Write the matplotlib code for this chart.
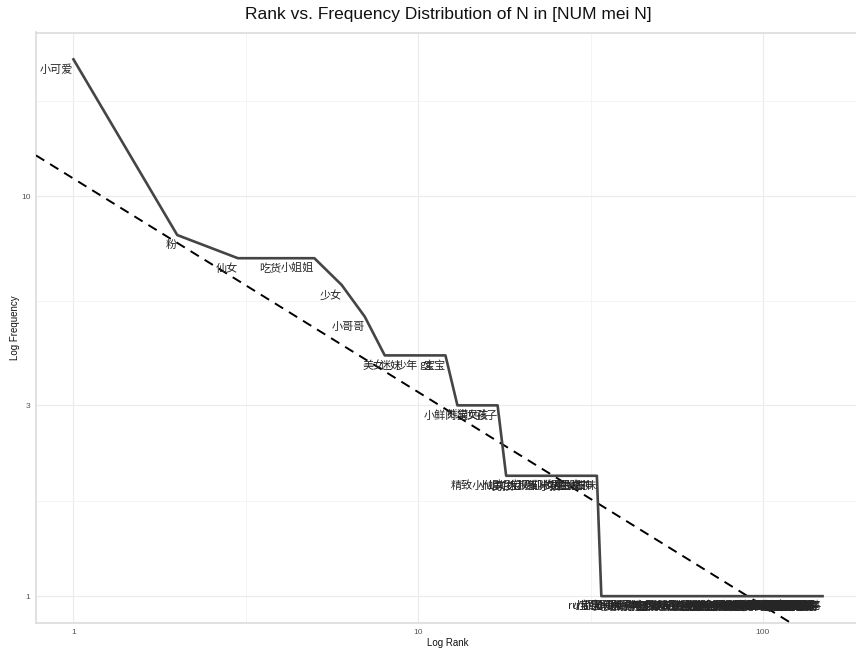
import numpy as np
import matplotlib
matplotlib.use("Agg")
import matplotlib.pyplot as plt
from matplotlib.ticker import FixedLocator, NullFormatter

# labels in rank order (tail ones are mostly illegible)
head_labels = ["小可爱", "粉", "仙女", "吃货", "小姐姐", "少女", "小哥哥", "美女",
               "迷妹", "少年", "gg", "宝宝", "小鲜肉", "熊猫", "宝贝", "女孩", "孩子"]
two_labels = ["精致小仙女", "男孩", "小姐姐们", "大叔", "小猪", "宝贝们", "猫咪", "小狗",
              "小孩", "女生", "男生", "姐妹", "小公主", "小朋友", "女神", "甜妹"]
one_labels = [
    "ru宝宝", "小甜心", "小可怜", "小天使", "小哥", "萌妹", "美少女", "帅哥", "胖子", "小胖",
    "小奶狗", "小狼狗", "学霸", "学渣", "吃瓜", "宅男", "宅女", "土豪", "老铁", "小伙伴",
    "闺蜜", "基友", "小姐", "妹子", "汉子", "女汉子", "软妹", "御姐", "萝莉", "正太",
    "大佬", "小白", "小白兔", "小猫", "小熊", "小鹿", "小鸟", "小鱼", "小兔子", "小狐狸",
    "小黄鸭", "熊孩子", "傻白甜", "小机灵", "小宝贝", "小乖", "小辣椒", "小糖", "小仙", "小少年",
    "小美女", "大美女", "美人", "佳人", "小娇妻", "小媳妇", "小公举", "小祖宗", "小妖精", "小魔女",
    "小恶魔", "小怪兽", "小精灵", "小王子", "小主", "小姑娘", "姑娘", "少爷", "公子", "哥哥",
    "姐姐", "妹妹", "弟弟", "宝宝们", "小baby", "baby", "girl", "boy", "小萌", "萌娃",
    "奶娃", "胖娃", "小屁孩", "学生", "少侠", "女侠", "仙子", "小仙子", "男孩子", "小吃货",
    "饭桶", "小馋猫", "小懒猪", "懒虫", "小淘气", "小调皮", "开心果", "小太阳", "小星星", "小月亮",
    "小云朵", "小花", "花花", "朵朵", "糖糖", "甜甜", "乖乖", "小狗狗", "小奶猫", "小胖子",
    "小绵羊", "小老虎", "小猴子", "小蜜蜂", "小企鹅", "小狗子",
]
labels = head_labels + two_labels + one_labels

head_freq = [22, 8, 7, 7, 7, 6, 5, 4, 4, 4, 4, 4, 3, 3, 3, 3, 3]
freq = np.array(head_freq + [2] * len(two_labels) + [1] * len(one_labels), dtype=float)
rank = np.arange(1, len(freq) + 1)

x_breaks = [1, 10, 100]
y_breaks = [1, 3, 10]

# linear fit in log-log space
slope, intercept = np.polyfit(np.log10(rank), np.log10(freq), 1)

W, H = 856, 649
fig = plt.figure(figsize=(W / 100, H / 100), dpi=100)
ax = fig.add_axes([36 / W, (H - 623) / H, (860 - 36) / W, (623 - 32.5) / H])

# ggplot-like 5% expansion in log space
lx = np.log10(rank)
ly = np.log10(freq)
ex = 0.05 * (lx.max() - lx.min())
ey = 0.05 * (ly.max() - ly.min())
xlim = (10 ** (lx.min() - ex), 10 ** (lx.max() + ex))
ylim = (10 ** (ly.min() - ey), 10 ** (ly.max() + ey))

ax.set_xscale("log")
ax.set_yscale("log")
ax.set_xlim(xlim)
ax.set_ylim(ylim)

# grid
ax.xaxis.set_major_locator(FixedLocator(x_breaks))
ax.yaxis.set_major_locator(FixedLocator(y_breaks))
x_minor = [np.sqrt(a * b) for a, b in zip(x_breaks[:-1], x_breaks[1:])] + [10 ** 2.5]
y_minor = [np.sqrt(a * b) for a, b in zip(y_breaks[:-1], y_breaks[1:])] + [np.sqrt(10 * 30), np.sqrt(1 / 3)]
ax.xaxis.set_minor_locator(FixedLocator(x_minor))
ax.yaxis.set_minor_locator(FixedLocator(y_minor))
ax.xaxis.set_minor_formatter(NullFormatter())
ax.yaxis.set_minor_formatter(NullFormatter())
ax.set_xticklabels([str(v) for v in x_breaks])
ax.set_yticklabels([str(v) for v in y_breaks])
ax.grid(which="major", color="#ebebeb", linewidth=0.8)
ax.grid(which="minor", color="#f3f3f3", linewidth=0.6)
ax.set_axisbelow(True)
ax.tick_params(which="both", length=0, labelsize=6, labelcolor="#555555", pad=4)
for t in ax.get_xticklabels() + ax.get_yticklabels():
    t.set_fontfamily("Liberation Sans")

for s in ax.spines.values():
    s.set_color("#dcdcdc")
    s.set_linewidth(1.2)

# fitted line
xs = np.array(xlim)
ax.plot(xs, 10 ** (intercept + slope * np.log10(xs)), color="black",
        linestyle=(0, (5, 3.5)), linewidth=1.4, zorder=3)

# rank-frequency line
ax.plot(rank, freq, color="#454545", linewidth=1.9, zorder=4)

for r, f, lab in zip(rank, freq, labels):
    ax.annotate(lab, (r, f), xytext=(0, -3.5), textcoords="offset points",
                ha="right", va="top", fontsize=8, color="#262626",
                family=["Noto Sans CJK SC", "DejaVu Sans"], zorder=5)

fig.text(448 / W, 1 - 15 / H, "Rank vs. Frequency Distribution of N in [NUM mei N]",
         ha="center", va="center", fontsize=12.5, family="Liberation Sans", color="#111111")
fig.text(448 / W, 1 - 643 / H, "Log Rank", ha="center", va="center",
         fontsize=7, family="Liberation Sans", color="#111111")
fig.text(15 / W, 1 - 328 / H, "Log Frequency", ha="center", va="center", rotation=90,
         fontsize=7, family="Liberation Sans", color="#111111")

fig.savefig("out.png", dpi=100)
